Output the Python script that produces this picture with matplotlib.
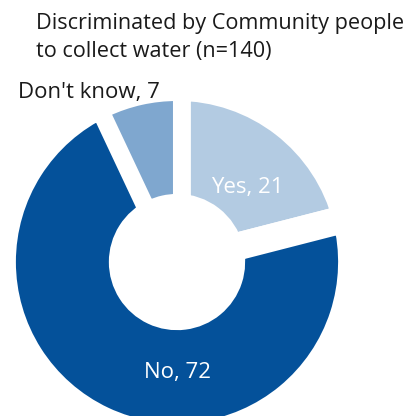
import matplotlib
matplotlib.use("Agg")
import matplotlib.pyplot as plt

plt.rcParams['font.family'] = ['Open Sans', 'DejaVu Sans']

# Data
categories = ['Yes', 'No', "Don't know"]
values = [21, 72, 7]
colors = ['#b3cbe2', '#04519a', '#7fa7cf']
title_lines = ['Discriminated by Community people', 'to collect water (n=140)']

PX = 416
fig = plt.figure(figsize=(4.16, 4.16), dpi=100)
# pie centre ~ (177, 262) px, outer radius (incl. white stroke) ~175 px
ax = fig.add_axes([2 / PX, -21 / PX, 350 / PX, 350 / PX])

wedges, _ = ax.pie(values, colors=colors, startangle=90, counterclock=False,
                   radius=1.0,
                   wedgeprops=dict(width=0.69, edgecolor='white', linewidth=20,
                                   joinstyle='miter'))
# small slice: thinner white border, drawn on top so it keeps its size
dk = wedges[2]
dk.set_linewidth(5.8)
dk.set_radius(0.943)
dk.set_width(0.577)
dk.set_zorder(3)

ax.set_xlim(-1, 1)
ax.set_ylim(-1, 1)
ax.set_aspect('equal')
ax.axis('off')

# labels
ax.text(70 / 175, 69 / 175, f'{categories[0]}, {values[0]}', color='white',
        fontsize=16, ha='center', va='baseline')
ax.text(0.0, -116 / 175, f'{categories[1]}, {values[1]}', color='white',
        fontsize=16, ha='center', va='baseline')
ax.text(-159 / 175, 164 / 175, f'{categories[2]}, {values[2]}', color='#1a1a1a',
        fontsize=16, ha='left', va='baseline')

for i, line in enumerate(title_lines):
    fig.text(36 / PX, 1 - (29 + 28 * i) / PX, line, fontsize=15.6,
             color='#1a1a1a', ha='left', va='baseline')

fig.savefig('out.png', dpi=100)
